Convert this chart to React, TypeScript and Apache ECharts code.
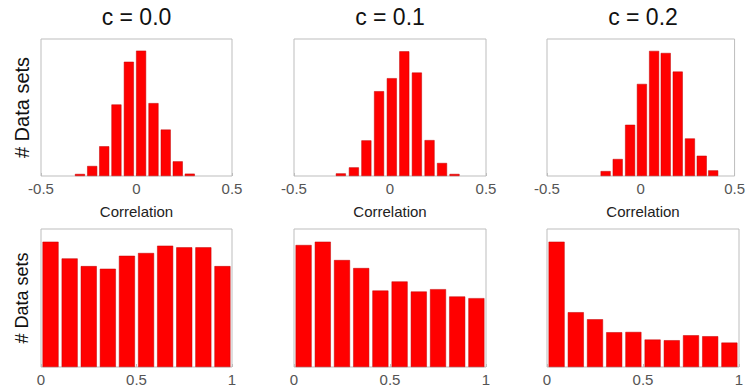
import React, { useEffect, useRef } from "react";
import * as echarts from "echarts";

// Top row: correlation histograms (bin centers and heights, % of axis max)
const topTitles = ["c = 0.0", "c = 0.1", "c = 0.2"];
const topCenters0 = [-0.296, -0.232, -0.169, -0.105, -0.04, 0.024, 0.089, 0.153, 0.216, 0.279];
const topHeights0 = [1.5, 7.3, 21.7, 52.2, 83.4, 91.5, 53.2, 33.9, 10.7, 1.7];
const topCenters1 = [-0.256, -0.188, -0.123, -0.057, 0.0095, 0.0745, 0.14, 0.206, 0.271, 0.336];
const topHeights1 = [1.9, 6.3, 26.0, 61.9, 71.4, 91.0, 75.5, 26.2, 9.5, 1.5];
const topCenters2 = [-0.1875, -0.123, -0.057, 0.006, 0.071, 0.133, 0.197, 0.262, 0.325, 0.386];
const topHeights2 = [3.6, 12.4, 37.4, 67.2, 91.3, 89.8, 76.2, 27.4, 14.8, 4.1];

// Bottom row: p-value histograms
const bottomCenters = [0.05, 0.15, 0.25, 0.35, 0.45, 0.55, 0.65, 0.75, 0.85, 0.95];
const bottomHeights0 = [90.8, 78.7, 73.1, 71.2, 80.6, 82.6, 87.9, 86.7, 86.7, 73.1];
const bottomHeights1 = [88.4, 90.8, 77.5, 71.7, 55.4, 62.0, 54.7, 56.4, 51.1, 49.9];
const bottomHeights2 = [90.8, 39.7, 34.6, 25.2, 25.4, 19.9, 19.4, 23.0, 22.3, 17.7];

const topTicks = ["-0.5", "0", "0.5"];
const bottomTicks = ["0", "0.5", "1"];
const xName = "Correlation";
const yName = "# Data sets";

export default function App() {
  const ref = useRef<HTMLDivElement>(null);
  useEffect(() => {
    if (!ref.current) return;
    const chart = echarts.init(ref.current, undefined, { renderer: "svg" });
    const font = "'Liberation Sans', Arial, Helvetica, sans-serif";
    const lefts = [41, 294, 547];
    const widths = [191, 192, 192];
    const tops = [39, 229];
    const heights = [137, 138];
    const grids: any[] = [];
    const xAxes: any[] = [];
    const yAxes: any[] = [];
    const series: any[] = [];
    const graphics: any[] = [];
    const topData = [
      [topCenters0, topHeights0],
      [topCenters1, topHeights1],
      [topCenters2, topHeights2],
    ];
    const bottomData = [bottomHeights0, bottomHeights1, bottomHeights2];

    for (let row = 0; row < 2; row++) {
      for (let col = 0; col < 3; col++) {
        const idx = row * 3 + col;
        const isTop = row === 0;
        grids.push({
          left: lefts[col],
          width: widths[col],
          top: tops[row],
          height: heights[row],
          show: true,
          borderColor: "#bdbdbd",
          borderWidth: 1,
          backgroundColor: "#fff",
        });
        const ticks = isTop ? topTicks : bottomTicks;
        const vals = isTop ? [-0.5, 0, 0.5] : [0, 0.5, 1];
        xAxes.push({
          type: "value",
          gridIndex: idx,
          min: isTop ? -0.5 : 0,
          max: isTop ? 0.5 : 1,
          interval: 0.5,
          axisLine: { show: false },
          axisTick: { show: true, inside: true, length: 3, lineStyle: { color: "#bdbdbd" } },
          splitLine: { show: false },
          axisLabel: {
            color: "#555",
            fontSize: 15,
            fontFamily: font,
            margin: 5,
            formatter: (v: number) => {
              const i = vals.findIndex((t) => Math.abs(t - v) < 1e-9);
              return i >= 0 ? ticks[i] : "";
            },
          },
        });
        yAxes.push({
          type: "value",
          gridIndex: idx,
          min: 0,
          max: 100,
          axisLine: { show: false },
          axisTick: { show: false },
          axisLabel: { show: false },
          splitLine: { show: false },
        });
        let data: number[][];
        if (isTop) {
          const [cs, hs] = topData[col];
          data = cs.map((c, i) => [c, hs[i]]);
        } else {
          data = bottomCenters.map((c, i) => [c, bottomData[col][i]]);
        }
        series.push({
          type: "bar",
          xAxisIndex: idx,
          yAxisIndex: idx,
          data,
          barWidth: isTop ? 10 : 16,
          itemStyle: { color: "#ff0000", borderColor: "#c00000", borderWidth: 0.5 },
          silent: true,
        });
        const cx = lefts[col] + widths[col] / 2;
        if (isTop) {
          graphics.push({
            type: "text",
            id: "title" + col,
            x: cx,
            y: 17,
            style: {
              text: topTitles[col],
              textAlign: "center",
              textVerticalAlign: "middle",
              font: "23px " + font,
              fill: "#111",
            },
          });
          graphics.push({
            type: "text",
            id: "xname" + col,
            x: cx,
            y: 211,
            style: {
              text: xName,
              textAlign: "center",
              textVerticalAlign: "middle",
              font: "15px " + font,
              fill: "#222",
            },
          });
        }
        if (col === 0) {
          graphics.push({
            type: "text",
            id: "yname" + row,
            x: 22,
            y: tops[row] + heights[row] / 2,
            rotation: Math.PI / 2,
            style: {
              text: yName,
              textAlign: "center",
              textVerticalAlign: "middle",
              font: (isTop ? "20px " : "18px ") + font,
              fill: "#111",
            },
          });
        }
      }
    }

    chart.setOption({
      animation: false,
      backgroundColor: "#fff",
      grid: grids,
      xAxis: xAxes,
      yAxis: yAxes,
      series,
      graphic: graphics,
    });
    return () => chart.dispose();
  }, []);
  return (
    <div
      ref={ref}
      style={{ position: "fixed", left: 0, top: 0, width: 748, height: 391 }}
    />
  );
}
